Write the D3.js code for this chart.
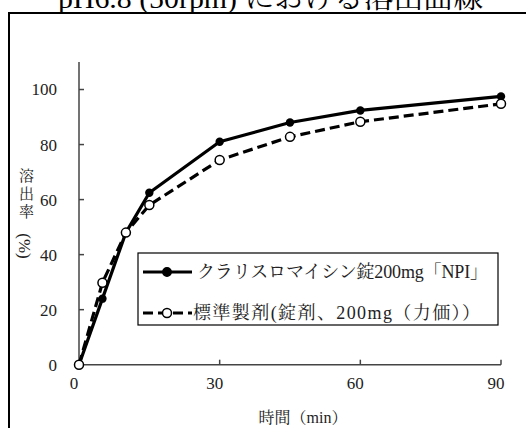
<!DOCTYPE html>
<html>
<head>
<meta charset="utf-8">
<script src="https://cdn.jsdelivr.net/npm/d3@7"></script>
<style>
    html, body { margin: 0; padding: 0; background: #fff; }
    svg { display: block; }
</style>
</head>
<body>
<svg id="chart" width="526" height="428"></svg>
<script>
const times = [0, 5, 10, 15, 30, 45, 60, 90];
const npiValues = [0, 24, 48, 62.5, 81, 88, 92.4, 97.5];
const standardValues = [0, 29.8, 48, 58, 74.4, 82.8, 88.3, 94.8];
const xTicks = [0, 30, 60, 90];
const yTicks = [0, 20, 40, 60, 80, 100];
const seriesNames = ['クラリスロマイシン錠200mg「NPI」', '標準製剤(錠剤、200mg（力価））'];
const titleText = 'pH6.8 (50rpm) における溶出曲線';

const FONT = '"Liberation Serif", "Noto Serif CJK JP", "Noto Sans CJK JP", serif';

const svg = d3.select('#chart');
const margin = { top: 62, right: 25, bottom: 63, left: 79 };

const xScale = d3.scaleLinear()
    .domain([0, 90])
    .range([margin.left, 501]);
const yScale = d3.scaleLinear()
    .domain([0, 110])
    .range([364.7, margin.top]);

// outer frame (runs off the right / bottom edge)
svg.append('rect')
    .attr('x', 9).attr('y', 13)
    .attr('width', 600).attr('height', 500)
    .attr('fill', 'none')
    .attr('stroke', '#000')
    .attr('stroke-width', 2);

// title, mostly cut off at the top like in the original
svg.append('text')
    .attr('x', 58).attr('y', 8)
    .attr('textLength', 425)
    .attr('lengthAdjust', 'spacingAndGlyphs')
    .attr('font-family', FONT)
    .attr('font-size', 28)
    .attr('fill', '#000')
    .text(titleText);

// axes
const axisColor = '#444';
svg.append('line')
    .attr('x1', xScale(0)).attr('x2', xScale(0))
    .attr('y1', yScale(110)).attr('y2', yScale(0))
    .attr('stroke', axisColor).attr('stroke-width', 1.5);
svg.append('line')
    .attr('x1', xScale(0)).attr('x2', xScale(90))
    .attr('y1', yScale(0)).attr('y2', yScale(0))
    .attr('stroke', axisColor).attr('stroke-width', 1.5);

yTicks.forEach((d) => {
    svg.append('line')
        .attr('x1', xScale(0)).attr('x2', xScale(0) + 5)
        .attr('y1', yScale(d)).attr('y2', yScale(d))
        .attr('stroke', axisColor).attr('stroke-width', 1.5);
    svg.append('text')
        .attr('x', 57).attr('y', yScale(d))
        .attr('dy', '0.35em')
        .attr('text-anchor', 'end')
        .attr('font-family', FONT)
        .attr('font-size', 17)
        .attr('fill', '#222')
        .text(d);
});

xTicks.forEach((d) => {
    if (d > 0) {
        svg.append('line')
            .attr('x1', xScale(d)).attr('x2', xScale(d))
            .attr('y1', yScale(0)).attr('y2', yScale(0) - 5)
            .attr('stroke', axisColor).attr('stroke-width', 1.5);
    }
    svg.append('text')
        .attr('x', xScale(d) - 5).attr('y', 383)
        .attr('dy', '0.35em')
        .attr('text-anchor', 'middle')
        .attr('font-family', FONT)
        .attr('font-size', 17)
        .attr('fill', '#222')
        .text(d);
});

// axis titles
svg.append('text')
    .attr('x', 303).attr('y', 417)
    .attr('dy', '0.35em')
    .attr('text-anchor', 'middle')
    .attr('font-family', FONT)
    .attr('font-size', 16)
    .attr('fill', '#222')
    .text('時間（min）');

svg.append('text')
    .attr('x', 25).attr('y', 168)
    .style('writing-mode', 'vertical-rl')
    .attr('font-family', FONT)
    .attr('font-size', 15)
    .attr('letter-spacing', 3)
    .attr('fill', '#222')
    .text('溶出率');
// the (%) part is set sideways, as in the original
svg.append('text')
    .attr('transform', 'translate(25,246) rotate(90)')
    .attr('dy', '0.35em')
    .attr('text-anchor', 'middle')
    .attr('font-family', FONT)
    .attr('font-size', 17)
    .attr('fill', '#222')
    .text('(%)');

// series
const npiData = times.map((t, i) => ({ x: t, y: npiValues[i] }));
const standardData = times.map((t, i) => ({ x: t, y: standardValues[i] }));

const line = d3.line()
    .x((d) => xScale(d.x))
    .y((d) => yScale(d.y));

svg.append('path')
    .attr('d', line(npiData))
    .attr('fill', 'none')
    .attr('stroke', '#000')
    .attr('stroke-width', 3.2)
    .attr('stroke-linejoin', 'round');
svg.selectAll('.npi-dot')
    .data(npiData)
    .join('circle')
    .attr('class', 'npi-dot')
    .attr('cx', (d) => xScale(d.x))
    .attr('cy', (d) => yScale(d.y))
    .attr('r', 4.2)
    .attr('fill', '#000');

svg.append('path')
    .attr('d', line(standardData))
    .attr('fill', 'none')
    .attr('stroke', '#000')
    .attr('stroke-width', 3.2)
    .attr('stroke-dasharray', '10,5');
svg.selectAll('.std-dot')
    .data(standardData)
    .join('circle')
    .attr('class', 'std-dot')
    .attr('cx', (d) => xScale(d.x))
    .attr('cy', (d) => yScale(d.y))
    .attr('r', 4.5)
    .attr('fill', '#fff')
    .attr('stroke', '#000')
    .attr('stroke-width', 1.5);

// legend
const legend = svg.append('g');
legend.append('rect')
    .attr('x', 138).attr('y', 253)
    .attr('width', 360).attr('height', 72)
    .attr('fill', '#fff')
    .attr('stroke', '#000')
    .attr('stroke-width', 1.2);

const legendRows = [
    { name: seriesNames[0], y: 272, dash: null, fill: '#000', r: 4.2, textX: 197, len: 291 },
    { name: seriesNames[1], y: 313, dash: '10,5', fill: '#fff', r: 4.5, textX: 193, len: 287 }
];
legendRows.forEach((row) => {
    legend.append('line')
        .attr('x1', 143).attr('x2', 192)
        .attr('y1', row.y).attr('y2', row.y)
        .attr('stroke', '#000')
        .attr('stroke-width', 3.2)
        .attr('stroke-dasharray', row.dash);
    legend.append('circle')
        .attr('cx', 167).attr('cy', row.y)
        .attr('r', row.r)
        .attr('fill', row.fill)
        .attr('stroke', '#000')
        .attr('stroke-width', 1.5);
    legend.append('text')
        .attr('x', row.textX).attr('y', row.y)
        .attr('dy', '0.35em')
        .attr('textLength', row.len)
        .attr('lengthAdjust', 'spacing')
        .attr('font-family', FONT)
        .attr('font-size', 18)
        .attr('fill', '#222')
        .text(row.name);
});
</script>
</body>
</html>
